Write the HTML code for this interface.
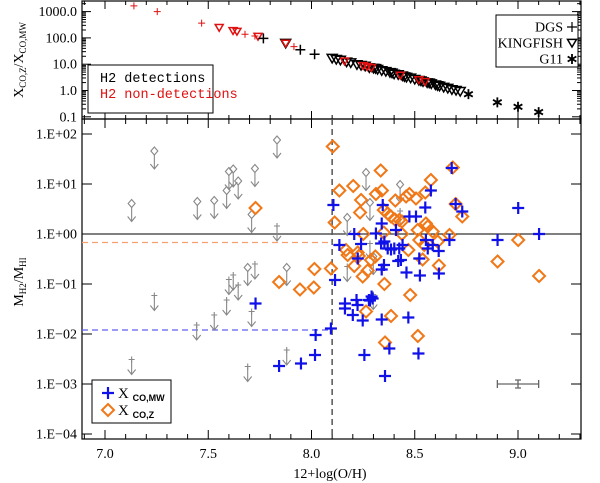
<!DOCTYPE html>
<html><head><meta charset="utf-8">
<style>
html,body{margin:0;padding:0;background:#fff;}
svg{display:block;font-family:"Liberation Serif",serif;}
</style></head>
<body>
<svg id="chart" width="600" height="483" viewBox="0 0 600 483" xmlns="http://www.w3.org/2000/svg">
<g id="top-panel"></g>
<g id="bottom-panel"></g>
</svg>
<script>
// ---------- DATA ----------
// Top panel: [12+log(O/H), log10(Xco,z/Xco,mw)]
const topDgsRed = [[7.140,3.22],[7.253,3.00],[7.468,2.56],[7.678,2.14],[7.726,2.07],[7.915,1.67]];
const topDgsBlack = [[7.767,1.98],[7.946,1.55],[8.015,1.38]];
const topKfRed = [[7.553,2.39],[7.620,2.27],[7.639,2.24],[7.741,2.05],[7.875,1.79],[8.16,1.11],[8.25,0.94],[8.27,0.90],[8.29,0.86],[8.43,0.57],[8.52,0.40],[8.55,0.33]];
const topKfBlack = [[7.875,1.79],[8.10,1.22],[8.12,1.18],[8.14,1.15],[8.17,1.08],[8.19,1.05],[8.22,0.98],[8.24,0.95],[8.26,0.92],[8.28,0.86],[8.30,0.84],[8.31,0.83],[8.32,0.80],[8.34,0.75],[8.36,0.72],[8.38,0.68],[8.39,0.66],[8.40,0.62],[8.42,0.60],[8.44,0.55],[8.45,0.52],[8.46,0.50],[8.48,0.47],[8.50,0.42],[8.52,0.38],[8.53,0.36],[8.54,0.33],[8.56,0.29],[8.57,0.28],[8.58,0.25],[8.60,0.21],[8.61,0.18],[8.62,0.16],[8.64,0.12],[8.66,0.08],[8.68,0.03],[8.70,0.00],[8.72,-0.04]];
const topG11 = [[8.76,-0.14],[8.90,-0.45],[9.00,-0.62],[9.10,-0.82]];
const topYTicks = ["0.1","1.0","10.0","100.0","1000.0"];
const topYTickVals = [-1,0,1,2,3];

// Bottom panel: [12+log(O/H), log10(MH2/MHI)]
const orangeZ = [[8.103,1.75],[8.335,1.27],[8.135,0.87],[8.202,0.96],[8.112,0.23],[7.729,0.52],[7.843,-0.96],[8.578,1.08],[8.684,1.33],[8.698,0.60],[8.730,0.35],[8.901,-0.55],[9.001,-0.12],[9.102,-0.84],[8.617,-0.63],
[8.240,0.68],[8.312,0.80],[8.341,0.87],[8.235,0.43],[8.350,0.48],[8.369,0.41],[8.385,0.35],[8.404,0.29],[8.425,0.28],[8.438,0.25],[8.406,0.67],[8.458,0.75],[8.474,0.80],[8.506,0.71],[8.551,0.83],
[8.251,0.00],[8.350,0.03],[8.438,0.00],[8.514,0.08],[8.522,-0.12],[8.554,0.21],[8.563,0.15],[8.587,0.05],[8.611,-0.15],[8.668,-0.02],[8.469,-0.32],[8.538,-0.51],[8.546,-0.22],
[8.167,-0.32],[8.175,-0.42],[8.224,-0.37],[8.229,-0.44],[8.207,-0.64],[8.288,-0.52],[8.272,-0.73],[8.248,-0.85],[8.309,-0.45],[8.353,-1.00],[8.478,-1.22],[8.385,-1.64],[8.264,-1.55],
[8.094,-0.69],[8.014,-0.70],[8.011,-1.07],[7.944,-1.11],[8.356,-2.17],[8.515,-2.04]];
const blueMW = [[8.106,0.58],[7.729,-1.39],[8.578,0.87],[8.679,1.32],[8.698,0.60],[8.730,0.45],[8.901,-0.12],[9.001,0.52],[9.102,0.00],[8.617,-0.79],
[8.162,-1.39],[8.162,-1.49],[8.218,-1.32],[8.223,-1.42],[8.283,-1.33],[8.291,-1.25],[8.200,-1.62],[8.248,-1.73],[8.340,-1.71],[8.469,-1.67],[8.020,-2.02],[8.094,-1.89],[8.017,-2.42],[7.949,-2.59],[7.843,-2.64],[8.256,-2.42],[8.377,-2.29],[8.518,-2.39],[8.356,-2.84],[8.114,-0.92],[8.525,-0.83],[8.460,-0.77],[8.340,-0.71],[8.420,-0.54],
[8.207,0.00],[8.135,-0.22],[8.240,-0.20],[8.224,-0.49],[8.312,0.01],[8.340,0.21],[8.345,0.58],[8.337,-0.19],[8.353,-0.15],[8.369,-0.29],[8.385,-0.31],[8.401,-0.29],[8.425,-0.29],[8.441,-0.22],[8.433,-0.52],[8.409,0.08],[8.474,0.35],[8.506,0.35],[8.522,-0.49],[8.554,-0.12],[8.563,-0.29],[8.587,-0.22],[8.616,-0.34],[8.551,0.53],[8.668,-0.12],[8.351,-0.62],[8.296,-1.29],[8.278,-1.32]];
const grayDiamondLim = [[7.129,0.61],[7.239,1.66],[7.447,0.65],[7.529,0.67],[7.589,0.87],[7.600,1.25],[7.621,1.30],[7.645,1.06],[7.726,1.31],[7.710,0.39],[7.833,1.88],[8.173,0.33],[8.264,1.23],[8.283,0.63],[8.429,0.99],[7.691,-0.67],[7.880,-0.67],[8.299,-0.45]];
const grayCrossLim = [[7.833,0.16],[7.726,-0.60],[7.621,-0.82],[7.600,-0.91],[7.645,-1.02],[7.239,-1.23],[7.589,-1.32],[7.529,-1.62],[7.710,-1.55],[7.444,-1.82],[7.129,-2.51],[7.880,-2.32],[7.691,-2.65],[8.173,-0.65],[8.299,-1.21],[8.429,0.46],[8.283,-0.19]];
const zThreshold = 8.1;
const meanLogZ = -0.17;
const meanLogMW = -1.92;
const errBar = [9.0, 0.1, -3.0];
const xTickVals = [7.0,7.5,8.0,8.5,9.0];
const xTickLabels = ["7.0","7.5","8.0","8.5","9.0"];
const yTickVals = [2,1,0,-1,-2,-3,-4];
const yTickLabels = ["1.E+02","1.E+01","1.E+00","1.E\u221201","1.E\u221202","1.E\u221203","1.E\u221204"];

// ---------- SCALES ----------
const L=82,R=581,TT=1,TB=119,BT=119,BB=439;
const xs = v => 105 + (v-7)*206.5;
const yTop = v => 90.5 - 26.3*v;
const yBot = v => 234 - 50*v;
const NS="http://www.w3.org/2000/svg";
function mk(tag, attrs, parent){const e=document.createElementNS(NS,tag);for(const k in attrs)e.setAttribute(k,attrs[k]);parent.appendChild(e);return e;}
const topG=document.getElementById('top-panel');
const botG=document.getElementById('bottom-panel');

// ---------- TOP PANEL ----------
let e;
e=mk('rect',{x:L,y:TT,width:R-L,height:TB-TT,fill:'none',stroke:'#000','stroke-width':1.2},topG);


// x ticks top panel
for(let v=6.9;v<=9.3;v+=0.1){const vv=Math.round(v*10)/10;const X=xs(vv);if(X<L||X>R)continue;const major=Math.abs(vv*2-Math.round(vv*2))<1e-6;const len=major?8:4;
 e=mk('line',{x1:X,x2:X,y1:TT,y2:TT+len,stroke:'#000','stroke-width':1},topG);
 
 
 e=mk('line',{x1:X,x2:X,y1:TB,y2:TB-len,stroke:'#000','stroke-width':1},topG);
 
 }
// y ticks top panel (log)
for(let d=-1;d<=3;d++){for(let m=1;m<=9;m++){const lv=d+Math.log10(m);const Y=yTop(lv);if(Y<TT||Y>TB)continue;const len=m===1?9:4;
 e=mk('line',{x1:L,x2:L+len,y1:Y,y2:Y,stroke:'#000','stroke-width':1},topG);
 
 
 e=mk('line',{x1:R,x2:R-len,y1:Y,y2:Y,stroke:'#000','stroke-width':1},topG);
 
 }}
topYTickVals.forEach((v,i)=>{e=mk('text',{x:77,y:yTop(v)+4.5,'text-anchor':'end','font-size':14,fill:'#000'},topG);e.textContent=topYTicks[i];
 
 });
function plus(g,x,y,s,col,w,name){const p=mk('path',{d:`M${x-s},${y}H${x+s}M${x},${y-s}V${y+s}`,stroke:col,'stroke-width':w,fill:'none'},g);
 
 return p;}
function tri(g,x,y,s,col,name){const p=mk('path',{d:`M${x-s},${y-s*0.8}H${x+s}L${x},${y+s*0.9}Z`,stroke:col,'stroke-width':1.5,fill:'none'},g);
 
 return p;}
function star(g,x,y,s,col,name){let d='';for(let k=0;k<3;k++){const a=Math.PI/2+k*Math.PI/3;const dx=Math.cos(a)*s,dy=Math.sin(a)*s;d+=`M${x-dx},${y-dy}L${x+dx},${y+dy}`;}
 const p=mk('path',{d:d,stroke:col,'stroke-width':1.8,fill:'none'},g);
 
 return p;}
topKfBlack.forEach(p=>tri(topG,xs(p[0]),yTop(p[1]),5,'#000','kingfish-detection-point'));
topKfRed.forEach(p=>tri(topG,xs(p[0]),yTop(p[1]),4,'#e01010','kingfish-nondetection-point'));
topDgsBlack.forEach(p=>plus(topG,xs(p[0]),yTop(p[1]),5,'#000',1.5,'dgs-detection-point'));
topDgsRed.forEach(p=>plus(topG,xs(p[0]),yTop(p[1]),3.5,'#e01010',1,'dgs-nondetection-point'));
topG11.forEach(p=>star(topG,xs(p[0]),yTop(p[1]),5,'#000','g11-point'));
// top legends
e=mk('rect',{x:88,y:65,width:125,height:48,fill:'#fff',stroke:'#000','stroke-width':1},topG);


e=mk('text',{x:100,y:82,'font-size':13.5,fill:'#000','font-family':'Liberation Mono, monospace'},topG);e.textContent='H2 detections';


e=mk('text',{x:100,y:98,'font-size':13.5,fill:'#e01010','font-family':'Liberation Mono, monospace'},topG);e.textContent='H2 non-detections';


e=mk('rect',{x:496,y:15,width:82,height:52,fill:'#fff',stroke:'#000','stroke-width':1},topG);


[['DGS',27],['KINGFISH',43],['G11',59]].forEach((t,i)=>{e=mk('text',{x:563,y:t[1]+4.5,'text-anchor':'end','font-size':14,fill:'#000'},topG);e.textContent=t[0];
 
 });
plus(topG,572,27,5,'#000',1.2,'legend-dgs-symbol');
tri(topG,572,43,4.5,'#000','legend-kingfish-symbol');
star(topG,572,59,5,'#000','legend-g11-symbol');
e=mk('text',{x:0,y:0,'font-size':14,fill:'#000','text-anchor':'middle',transform:'translate(23,60) rotate(-90)'},topG);
e.innerHTML='X<tspan font-size="9" dy="3">CO,Z</tspan><tspan dy="-3">/X</tspan><tspan font-size="9" dy="3">CO,MW</tspan>';



// ---------- BOTTOM PANEL ----------
e=mk('rect',{x:L,y:BT,width:R-L,height:BB-BT,fill:'none',stroke:'#000','stroke-width':1.2},botG);


for(let v=6.9;v<=9.3;v+=0.1){const vv=Math.round(v*10)/10;const X=xs(vv);if(X<L||X>R)continue;const major=Math.abs(vv*2-Math.round(vv*2))<1e-6;const len=major?9:5;
 e=mk('line',{x1:X,x2:X,y1:BT,y2:BT+len,stroke:'#000','stroke-width':1},botG);
 
 
 e=mk('line',{x1:X,x2:X,y1:BB,y2:BB-len,stroke:'#000','stroke-width':1},botG);
 
 }
xTickVals.forEach((v,i)=>{e=mk('text',{x:xs(v),y:458,'text-anchor':'middle','font-size':14,fill:'#000'},botG);e.textContent=xTickLabels[i];
 
 });
yTickVals.forEach((v,i)=>{const Y=yBot(v);
 e=mk('line',{x1:L,x2:L+10,y1:Y,y2:Y,stroke:'#000','stroke-width':1},botG);
 
 
 e=mk('line',{x1:R,x2:R-10,y1:Y,y2:Y,stroke:'#000','stroke-width':1},botG);
 
 
 e=mk('text',{x:77,y:Y+4.5,'text-anchor':'end','font-size':14,fill:'#000'},botG);e.textContent=yTickLabels[i];
 
 });
e=mk('text',{x:330,y:478,'text-anchor':'middle','font-size':14,fill:'#000'},botG);e.textContent='12+log(O/H)';


e=mk('text',{x:0,y:0,'font-size':14,fill:'#000','text-anchor':'middle',transform:'translate(23,282) rotate(-90)'},botG);
e.innerHTML='M<tspan font-size="9" dy="3">H2</tspan><tspan dy="-3">/M</tspan><tspan font-size="9" dy="3">HI</tspan>';


// reference lines
e=mk('line',{x1:L,x2:R,y1:yBot(0),y2:yBot(0),stroke:'#000','stroke-width':1},botG);


e=mk('line',{x1:xs(zThreshold),x2:xs(zThreshold),y1:BT,y2:BB,stroke:'#555','stroke-width':1.5,'stroke-dasharray':'6,4'},botG);


e=mk('line',{x1:L,x2:xs(zThreshold),y1:yBot(meanLogZ),y2:yBot(meanLogZ),stroke:'#f5a070','stroke-width':1.3,'stroke-dasharray':'6,4'},botG);


e=mk('line',{x1:L,x2:xs(zThreshold),y1:yBot(meanLogMW),y2:yBot(meanLogMW),stroke:'#6060f0','stroke-width':1.3,'stroke-dasharray':'6,4'},botG);


// upper limits
function arrow(g,x,y,name){const p=mk('path',{d:`M${x},${y}V${y+14}M${x-4},${y+9}L${x},${y+14}L${x+4},${y+9}`,stroke:'#888','stroke-width':1.1,fill:'none'},g);
 
 }
grayDiamondLim.forEach(p=>{const X=xs(p[0]),Y=yBot(p[1]);
 e=mk('path',{d:`M${X},${Y-4}L${X+3.5},${Y}L${X},${Y+4}L${X-3.5},${Y}Z`,stroke:'#888','stroke-width':1.1,fill:'none'},botG);
 
 
 arrow(botG,X,Y+4,'upper-limit-arrow');});
grayCrossLim.forEach(p=>{const X=xs(p[0]),Y=yBot(p[1]);
 plus(botG,X,Y,3,'#888',1.1,'upper-limit-xcomw-point');
 arrow(botG,X,Y+1,'upper-limit-arrow');});
orangeZ.forEach(p=>{const X=xs(p[0]),Y=yBot(p[1]);
 e=mk('path',{d:`M${X},${Y-6}L${X+6},${Y}L${X},${Y+6}L${X-6},${Y}Z`,stroke:'#f07818','stroke-width':2,fill:'none'},botG);
 
 });
blueMW.forEach(p=>plus(botG,xs(p[0]),yBot(p[1]),6,'#1010e8',2.2,'xcomw-point'));
// error bar
(function(){const X1=xs(errBar[0]-errBar[1]),X2=xs(errBar[0]+errBar[1]),XC=xs(errBar[0]),Y=yBot(errBar[2]);
 e=mk('path',{d:`M${X1},${Y}H${X2}M${X1},${Y-4}V${Y+4}M${X2},${Y-4}V${Y+4}M${XC-3},${Y-4}H${XC+3}M${XC-3},${Y+4}H${XC+3}M${XC},${Y-4}V${Y+4}`,stroke:'#666','stroke-width':1.3,fill:'none'},botG);
 
 })();
// bottom legend
e=mk('rect',{x:92,y:380,width:79,height:43,fill:'#fff',stroke:'#000','stroke-width':1},botG);


plus(botG,108,393,6,'#1010e8',2.2,'legend-xcomw-symbol');
e=mk('path',{d:'M108,404L114,410L108,416L102,410Z',stroke:'#f07818','stroke-width':2,fill:'none'},botG);


e=mk('text',{x:118,y:398,'font-size':15,fill:'#000'},botG);
e.innerHTML='X <tspan font-size="9" font-family="Liberation Sans, sans-serif" font-weight="bold" dy="3">CO,MW</tspan>';


e=mk('text',{x:118,y:415,'font-size':15,fill:'#000'},botG);
e.innerHTML='X <tspan font-size="9" font-family="Liberation Sans, sans-serif" font-weight="bold" dy="3">CO,Z</tspan>';


</script>
</body></html>
